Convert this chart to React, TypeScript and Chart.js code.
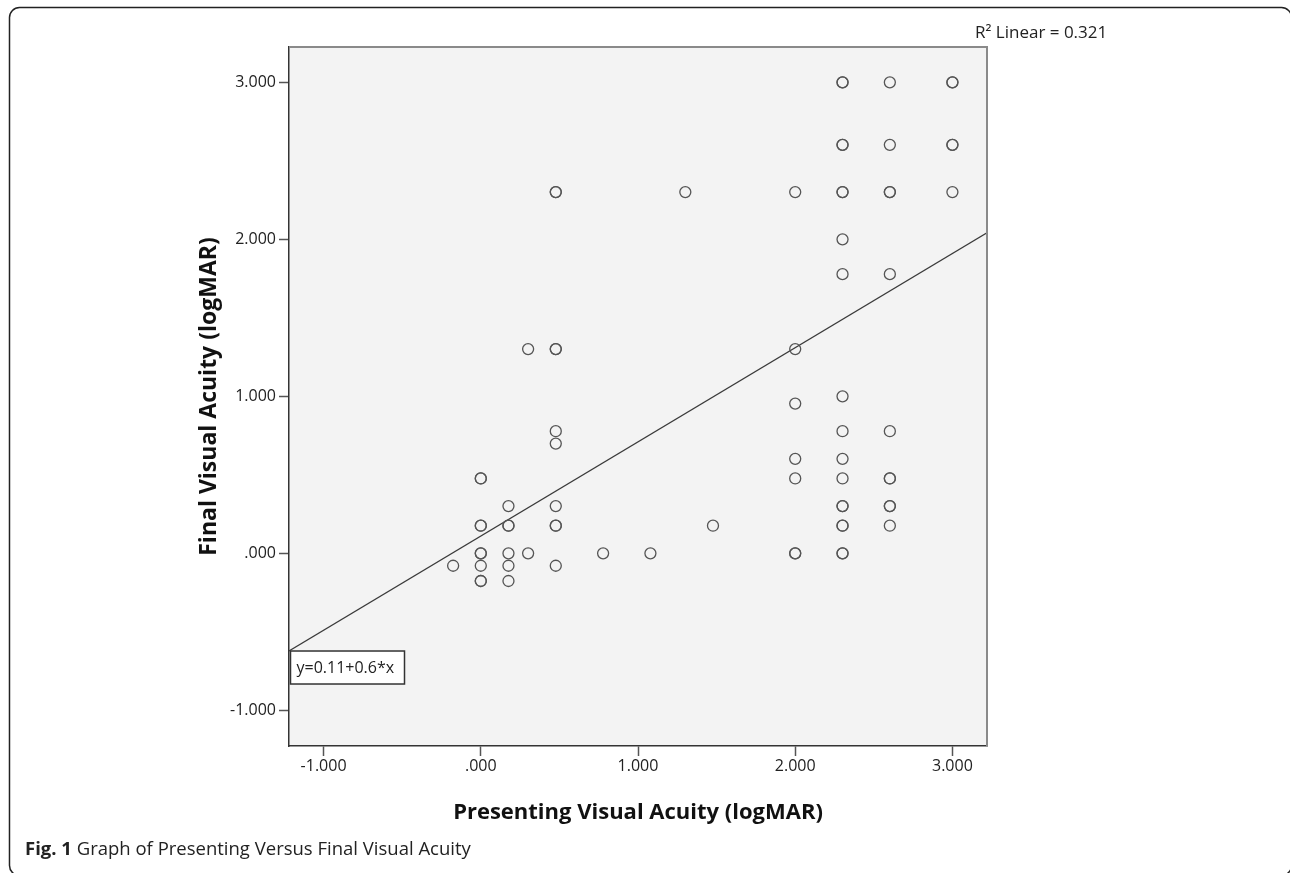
import React, { useEffect, useRef } from "react";
import { Chart, registerables } from "chart.js";

Chart.register(...registerables);

// Presenting (x) and final (y) visual acuity in logMAR; repeated pairs are overlapping cases
const presentingVA = [
  -0.176,
  0, 0, 0, 0, 0, 0, 0, 0, 0,
  0.176, 0.176, 0.176, 0.176, 0.176, 0.176,
  0.301, 0.301,
  0.477, 0.477, 0.477, 0.477, 0.477, 0.477, 0.477, 0.477, 0.477, 0.477,
  0.778, 1.079, 1.301, 1.477,
  2.0, 2.0, 2.0, 2.0, 2.0, 2.0, 2.0,
  2.301, 2.301, 2.301, 2.301, 2.301, 2.301, 2.301, 2.301, 2.301, 2.301, 2.301, 2.301,
  2.301, 2.301, 2.301, 2.301, 2.301, 2.301,
  2.602, 2.602, 2.602, 2.602, 2.602, 2.602, 2.602, 2.602, 2.602, 2.602, 2.602,
  3.0, 3.0, 3.0, 3.0, 3.0,
];
const finalVA = [
  -0.079,
  0.477, 0.477, 0.176, 0, 0, -0.079, -0.176, -0.176, 0.176,
  0.301, 0.176, 0.176, 0, -0.079, -0.176,
  1.301, 0,
  2.301, 2.301, 1.301, 1.301, 0.778, 0.699, 0.301, 0.176, 0.176, -0.079,
  0, 0, 2.301, 0.176,
  2.301, 1.301, 0.954, 0.602, 0.477, 0, 0,
  3.0, 3.0, 2.602, 2.602, 2.301, 2.301, 2.0, 1.778, 1.0, 0.778, 0.602, 0.477,
  0.301, 0.301, 0.176, 0.176, 0, 0,
  3.0, 2.602, 2.301, 2.301, 1.778, 0.778, 0.477, 0.477, 0.301, 0.301, 0.176,
  3.0, 3.0, 2.602, 2.602, 2.301,
];

// Fit line end points (y = 0.11 + 0.6*x) at the plot edges
const fitLineX = [-1.22, 3.22];
const fitLineY = [-0.622, 2.042];

const xTicks = [-1, 0, 1, 2, 3];
const yTicks = [-1, 0, 1, 2, 3];
const xRange = [-1.22, 3.22];
const yRange = [-1.227, 3.225];

const xTitle = "Presenting Visual Acuity (logMAR)";
const yTitle = "Final Visual Acuity (logMAR)";
const rSquaredLabel = "R² Linear = 0.321";
const equationLabel = "y=0.11+0.6*x";
const captionBold = "Fig. 1";
const captionText = "Graph of Presenting Versus Final Visual Acuity";

const FONT = "'Open Sans', 'Noto Sans', sans-serif";

const fmt = (v: number) => {
  const s = Math.abs(v).toFixed(3).replace(/^0/, "");
  return (v < 0 ? "-" : "") + s;
};

const decorPlugin = {
  id: "decor",
  beforeDraw(chart: any) {
    const { ctx, chartArea: a } = chart;
    ctx.save();
    ctx.fillStyle = "#f3f3f3";
    ctx.fillRect(a.left, a.top, a.right - a.left, a.bottom - a.top);
    ctx.restore();
  },
  afterDraw(chart: any) {
    const { ctx, chartArea: a, scales } = chart;
    ctx.save();
    // top / right frame
    ctx.strokeStyle = "#8a8a8a";
    ctx.lineWidth = 2;
    ctx.beginPath();
    ctx.moveTo(a.left, a.top);
    ctx.lineTo(a.right, a.top);
    ctx.lineTo(a.right, a.bottom);
    ctx.stroke();

    // equation box
    const boxTop = scales.y.getPixelForValue(fitLineY[0]);
    const boxLeft = a.left + 1.5;
    ctx.fillStyle = "#ffffff";
    ctx.fillRect(boxLeft, boxTop, 114, 33);
    ctx.strokeStyle = "#333333";
    ctx.lineWidth = 1.5;
    ctx.strokeRect(boxLeft, boxTop, 114, 33);
    ctx.fillStyle = "#222222";
    ctx.font = `16px ${FONT}`;
    ctx.textBaseline = "middle";
    ctx.textAlign = "left";
    ctx.fillText(equationLabel, boxLeft + 6, boxTop + 17);

    // R squared label
    ctx.font = `17px ${FONT}`;
    ctx.fillText(rSquaredLabel, 975, 33);

    // caption
    ctx.textBaseline = "alphabetic";
    ctx.font = `bold 18.5px ${FONT}`;
    ctx.fillText(captionBold, 25, 855);
    const w = ctx.measureText(captionBold + " ").width;
    ctx.font = `18.5px ${FONT}`;
    ctx.fillText(captionText, 25 + w, 855);

    // outer rounded frame (right and bottom edges run just past the image)
    ctx.strokeStyle = "#222222";
    ctx.lineWidth = 1.5;
    ctx.beginPath();
    (ctx as any).roundRect(9.5, 7.5, 1282, 868, 10);
    ctx.stroke();
    ctx.restore();
  },
};

export default function App() {
  const ref = useRef<HTMLCanvasElement | null>(null);

  useEffect(() => {
    if (!ref.current) return;
    const points = presentingVA.map((x, i) => ({ x, y: finalVA[i] }));
    const fit = fitLineX.map((x, i) => ({ x, y: fitLineY[i] }));
    const chart = new Chart(ref.current, {
      type: "scatter",
      data: {
        datasets: [
          {
            data: fit,
            showLine: true,
            borderColor: "#3a3a3a",
            borderWidth: 1.3,
            pointRadius: 0,
            order: 2,
          } as any,
          {
            data: points,
            pointStyle: "circle",
            pointRadius: 5.5,
            pointBorderWidth: 1.3,
            borderColor: "#555555",
            backgroundColor: "rgba(0,0,0,0)",
            pointBackgroundColor: "rgba(0,0,0,0)",
            pointBorderColor: "#555555",
            order: 1,
          } as any,
        ],
      },
      options: {
        responsive: false,
        animation: false,
        layout: { padding: { left: 0, top: 47, right: 303, bottom: 0 } },
        plugins: {
          legend: { display: false },
          tooltip: { enabled: false },
        },
        scales: {
          x: {
            type: "linear",
            min: xRange[0],
            max: xRange[1],
            afterBuildTicks: (s: any) => {
              s.ticks = xTicks.map((v) => ({ value: v }));
            },
            afterFit: (s: any) => {
              s.height = 127;
            },
            grid: {
              drawOnChartArea: false,
              drawTicks: true,
              tickLength: 10,
              tickColor: "#555555",
              tickWidth: 1.5,
            },
            border: { color: "#333333", width: 1.5 },
            ticks: {
              autoSkip: false,
              maxRotation: 0,
              padding: 1,
              color: "#222222",
              font: { family: FONT, size: 16 },
              callback: (v: any) => fmt(Number(v)),
            },
            title: {
              display: true,
              text: xTitle,
              color: "#111111",
              font: { family: FONT, size: 22, weight: "bold" },
              padding: { top: 0, bottom: 47 },
            },
          },
          y: {
            type: "linear",
            min: yRange[0],
            max: yRange[1],
            afterBuildTicks: (s: any) => {
              s.ticks = yTicks.map((v) => ({ value: v }));
            },
            afterFit: (s: any) => {
              s.width = 289;
            },
            grid: {
              drawOnChartArea: false,
              drawTicks: true,
              tickLength: 10,
              tickColor: "#555555",
              tickWidth: 1.5,
            },
            border: { color: "#333333", width: 1.5 },
            ticks: {
              autoSkip: false,
              padding: 3,
              color: "#222222",
              font: { family: FONT, size: 16 },
              callback: (v: any) => fmt(Number(v)),
            },
            title: {
              display: true,
              text: yTitle,
              color: "#111111",
              font: { family: FONT, size: 23, weight: "bold" },
              padding: { top: 196, bottom: 0 },
            },
          },
        },
      },
      plugins: [decorPlugin],
    });
    return () => chart.destroy();
  }, []);

  return (
    <div style={{ position: "absolute", left: 0, top: 0, width: 1290, height: 873 }}>
      <canvas ref={ref} width={1290} height={873} style={{ display: "block" }} />
    </div>
  );
}
